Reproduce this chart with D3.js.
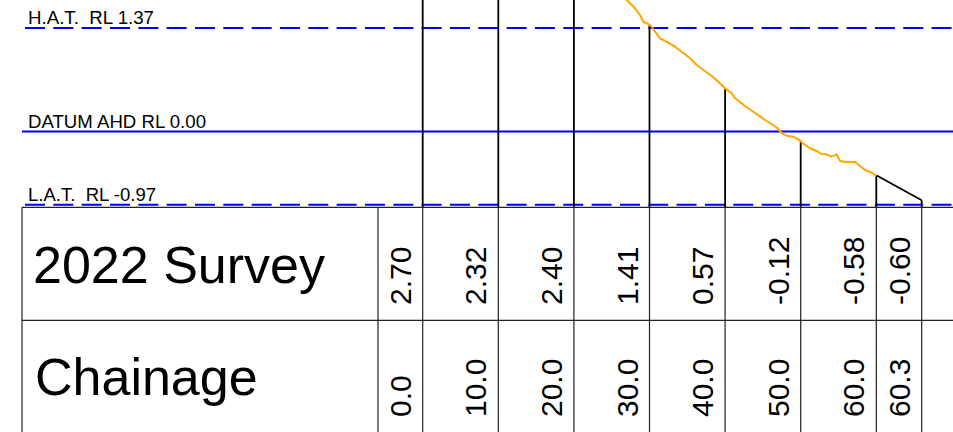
<!DOCTYPE html>
<html>
<head>
<meta charset="utf-8">
<script src="https://cdn.jsdelivr.net/npm/d3@7"></script>
<style>
  body { margin: 0; background: #fff; }
  svg { display: block; }
  text { font-family: "Liberation Sans", Arial, sans-serif; fill: #000; }
</style>
</head>
<body>
<script>
// ---- data ----
// survey stations (table columns)
const stationLabels = ['0.0', '10.0', '20.0', '30.0', '40.0', '50.0', '60.0', '60.3'];
const stationLevels = ['2.70', '2.32', '2.40', '1.41', '0.57', '-0.12', '-0.58', '-0.60'];
// drawn position of each station line along the section (last one pushed out for the label)
const stationPos = [0, 10, 20, 30, 40, 50, 60, 66];
const stationTop = [2.70, 2.32, 2.40, 1.41, 0.57, -0.12, -0.58, -0.91];

// tide levels
const tideNames = ['H.A.T.  RL 1.37', 'DATUM AHD RL 0.00', 'L.A.T.  RL -0.97'];
const tideLevels = [1.37, 0.00, -0.97];
const tideDashed = [true, false, true];

// 2022 survey profile (orange)
const profileCh = [26.36, 26.98, 28.08, 28.74, 29.18, 29.84, 30.29, 30.73, 31.39, 32.49,
  33.37, 34.26, 35.36, 36.24, 37.12, 38.23, 39.10, 39.99, 40.87, 41.31,
  42.63, 43.96, 45.28, 46.83, 47.49, 48.15, 49.02, 49.91, 50.57, 51.23,
  52.12, 52.78, 53.44, 54.10, 54.76, 55.20, 56.08, 57.18, 57.84, 58.51,
  59.39, 60.00];
const profileRL = [1.807, 1.741, 1.631, 1.542, 1.453, 1.423, 1.387, 1.321, 1.234, 1.175,
  1.122, 1.056, 0.969, 0.880, 0.814, 0.734, 0.659, 0.571, 0.505, 0.443,
  0.337, 0.244, 0.152, 0.052, -0.021, -0.056, -0.070, -0.122, -0.179, -0.223,
  -0.259, -0.299, -0.303, -0.334, -0.303, -0.391, -0.409, -0.401, -0.458, -0.511,
  -0.546, -0.59];

// end of section (black)
const edgeCh = [60, 66];
const edgeRL = [-0.58, -0.91];

// ---- layout ----
const w = 953, h = 432;
const tableLeft = 22, labelColRight = 378;
const tableTop = 207.3, rowMid = 320.3;

const svg = d3.select('body')
  .append('svg')
  .attr('width', w)
  .attr('height', h);

const x = d3.scaleLinear().domain([0, 60]).range([422.7, 876.3]);
const y = d3.scaleLinear().domain([-0.97, 1.37]).range([204.7, 28]);

// tide lines
tideLevels.forEach((lv, i) => {
  svg.append('line')
    .attr('x1', tableLeft).attr('x2', w)
    .attr('y1', y(lv)).attr('y2', y(lv))
    .attr('stroke', '#0000ff')
    .attr('stroke-width', 2)
    .attr('stroke-dasharray', tideDashed[i] ? '20 8.33' : null)
    .attr('stroke-dashoffset', tideDashed[i] ? -3 : null);

  svg.append('text')
    .attr('x', 28)
    .attr('y', y(lv) - 3.6)
    .style('white-space', 'pre')
    .attr('font-size', 18.5)
    .attr('textLength', [126, 178, 128][i])
    .attr('lengthAdjust', 'spacingAndGlyphs')
    .text(tideNames[i]);
});

// station lines above the table
svg.selectAll('line.station')
  .data(stationPos)
  .enter()
  .append('line')
  .attr('class', 'station')
  .attr('x1', d => x(d)).attr('x2', d => x(d))
  .attr('y1', (d, i) => y(stationTop[i]))
  .attr('y2', tableTop)
  .attr('stroke', '#000')
  .attr('stroke-width', 1.8);

// profile
const line = d3.line().x(d => x(d[0])).y(d => y(d[1]));

svg.append('path')
  .datum(d3.zip(edgeCh, edgeRL))
  .attr('d', line)
  .attr('fill', 'none')
  .attr('stroke', '#000')
  .attr('stroke-width', 1.8);

svg.append('path')
  .datum(d3.zip(profileCh, profileRL))
  .attr('d', line)
  .attr('fill', 'none')
  .attr('stroke', '#ffa500')
  .attr('stroke-width', 2)
  .attr('stroke-linejoin', 'round');

// ---- table ----
const grid = svg.append('g').attr('stroke', '#222').attr('stroke-width', 1.2);
grid.append('line').attr('x1', tableLeft).attr('x2', w).attr('y1', tableTop).attr('y2', tableTop);
grid.append('line').attr('x1', tableLeft).attr('x2', w).attr('y1', rowMid).attr('y2', rowMid);
grid.append('line').attr('x1', tableLeft).attr('x2', tableLeft).attr('y1', tableTop).attr('y2', h);
grid.append('line').attr('x1', labelColRight).attr('x2', labelColRight).attr('y1', tableTop).attr('y2', h);
grid.selectAll('line.col')
  .data(stationPos)
  .enter()
  .append('line')
  .attr('class', 'col')
  .attr('x1', d => x(d)).attr('x2', d => x(d))
  .attr('y1', tableTop).attr('y2', h);

svg.append('text')
  .attr('x', 33).attr('y', 283)
  .attr('font-size', 52)
  .text('2022 Survey');

svg.append('text')
  .attr('x', 35).attr('y', 395)
  .attr('font-size', 52)
  .text('Chainage');

// rotated values
const rowText = (labels, baseY) => {
  svg.selectAll(null)
    .data(labels)
    .enter()
    .append('text')
    .attr('font-size', 30)
    .attr('transform', (d, i) => `translate(${x(stationPos[i]) - 12},${baseY}) rotate(-90)`)
    .text(d => d);
};
rowText(stationLevels, 305);
rowText(stationLabels, 417);
</script>
</body>
</html>
